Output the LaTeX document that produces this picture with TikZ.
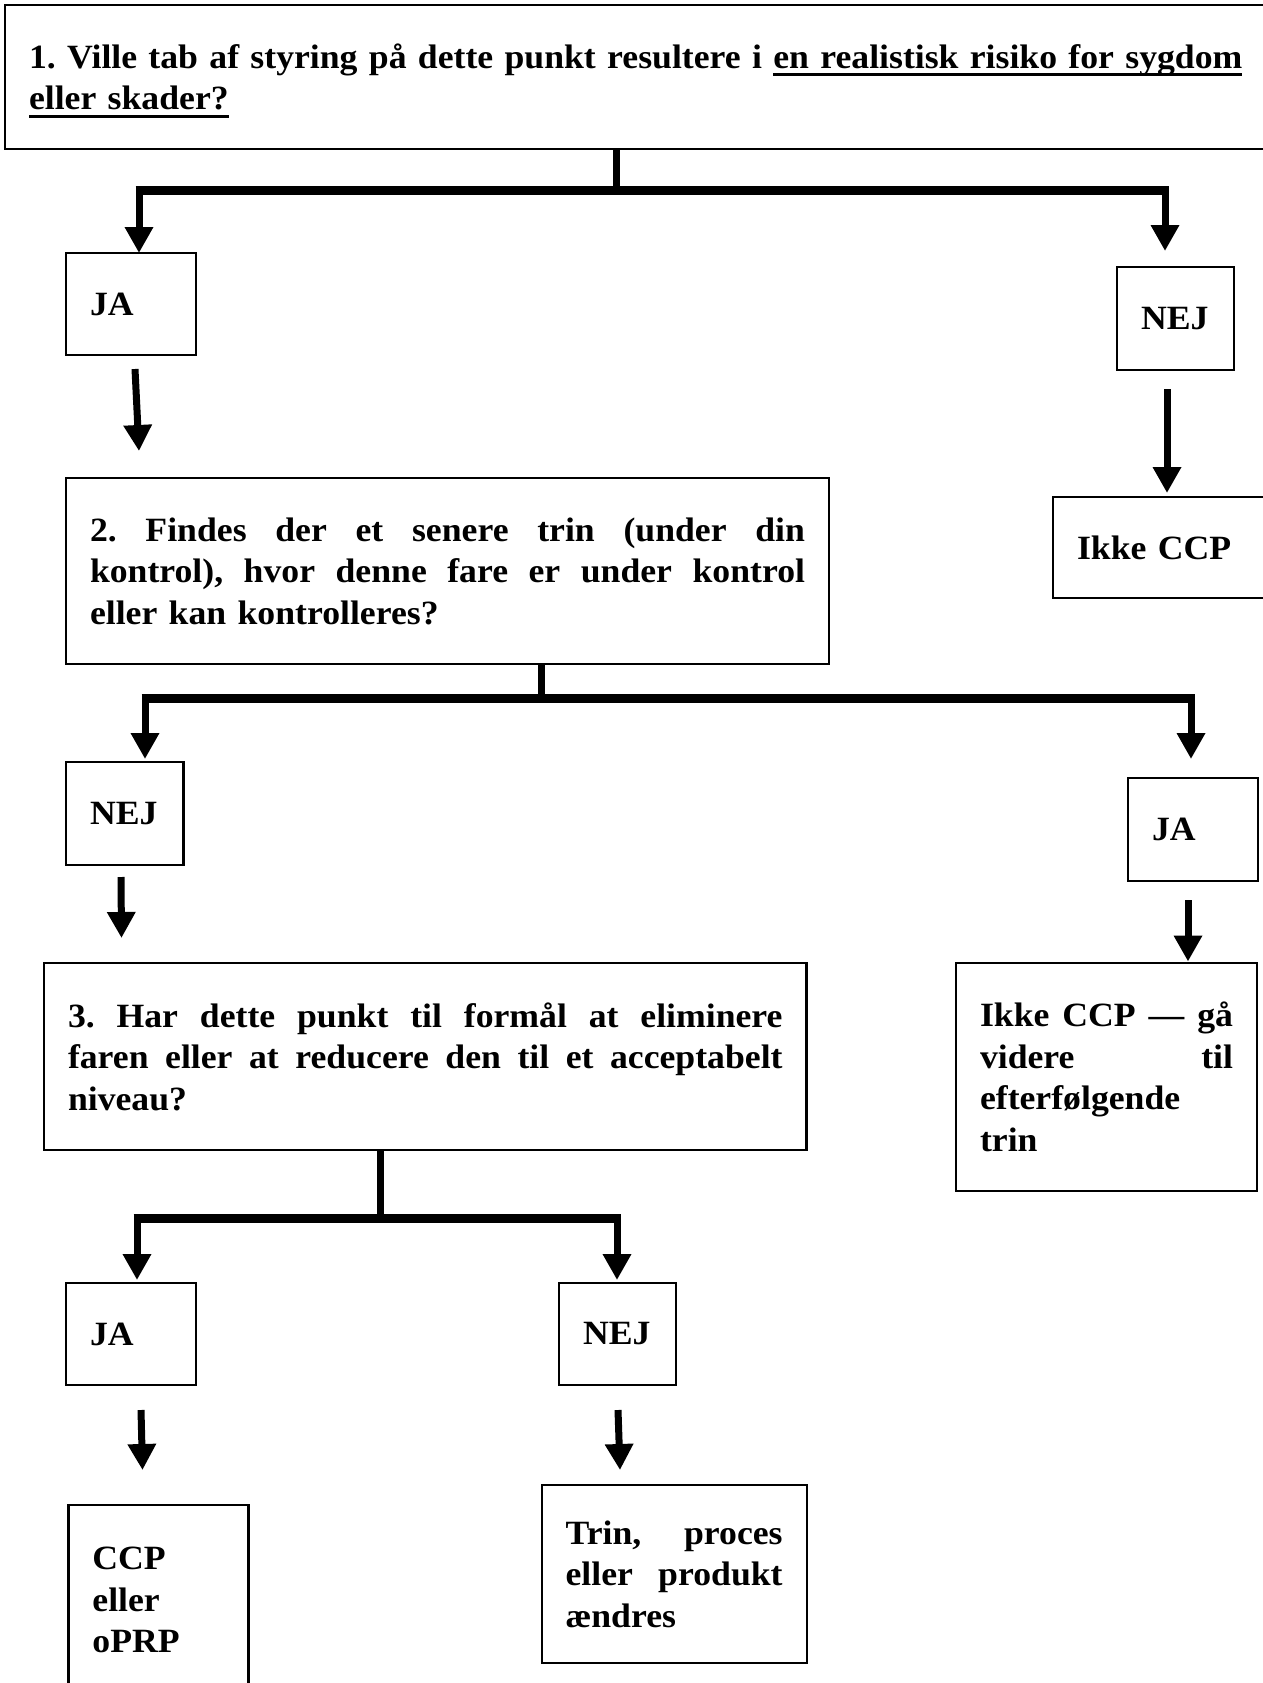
\documentclass[tikz,border=0pt]{standalone}
\usepackage{fontspec}
\setmainfont{Liberation Serif}[FakeStretch=1.05]
\usetikzlibrary{arrows.meta}
\setlength{\parindent}{0pt}
\frenchspacing
\newcommand\myul[1]{\setbox0\hbox{#1}\rlap{\smash{\rule[-8pt]{\wd0}{3pt}}}\box0}
\newcommand\jline[2]{\leavevmode\hbox to #1{\spaceskip=\fontdimen2\font plus 1fil\relax #2}}
\begin{document}
\begin{tikzpicture}[x=1pt,y=-1pt,
  box/.style={draw, line width=2.2pt, anchor=north west, inner xsep=24pt, inner ysep=0pt,
    outer sep=0pt, align=left, font=\bfseries\fontsize{34}{41.5}\selectfont\frenchspacing},
  stem/.style={line width=7pt},
  bar/.style={line width=9pt, shorten <=-3.5pt, shorten >=-3.5pt},
  arr/.style={line width=7pt, -{Triangle[length=26pt,width=27pt]}}
]
\useasboundingbox (0,0) rectangle (1262,1683);
\fill[white] (0,0) rectangle (1262,1683);

% boxes
\node[box, text width=1224pt, minimum height=144pt] (b1) at (5,5)
  {\mbox{1. Ville tab af styring på dette punkt resultere i \myul{en realistisk risiko for sygdom}}\\
   \mbox{\myul{eller skader?}}};
\node[box, text width=82pt, minimum height=102pt] (ja1) at (66,253) {\mbox{JA}};
\node[box, text width=69pt, minimum height=103pt] (nej1) at (1117,267) {\mbox{NEJ}};
\node[box, text width=174pt, minimum height=101pt] (ikke1) at (1053,497) {\mbox{Ikke CCP}};
\node[box, text width=715pt, minimum height=186pt] (b2) at (66,478)
  {\jline{715pt}{2. Findes der et senere trin (under din}\\
   \jline{715pt}{kontrol), hvor denne fare er under kontrol}\\
   \mbox{eller kan kontrolleres?}};
\node[box, text width=69.5pt, minimum height=103pt] (nej2) at (66,762) {\mbox{NEJ}};
\node[box, text width=82pt, minimum height=103pt] (ja2) at (1128,778) {\mbox{JA}};
\node[box, text width=714.5pt, minimum height=187pt] (b3) at (44,963)
  {\jline{714.5pt}{3. Har dette punkt til formål at eliminere}\\
   \jline{714.5pt}{faren eller at reducere den til et acceptabelt}\\
   \mbox{niveau?}};
\node[box, text width=253pt, minimum height=228pt] (ikke2) at (956,963)
  {\jline{253pt}{Ikke CCP — gå}\\
   \jline{253pt}{videre til}\\
   \mbox{efterfølgende}\\
   \mbox{trin}};
\node[box, text width=82pt, minimum height=102pt] (ja3) at (66,1283) {\mbox{JA}};
\node[box, text width=69pt, minimum height=102pt] (nej3) at (559,1283) {\mbox{NEJ}};
\node[box, text width=132pt, minimum height=190pt] (ccp) at (68.4,1505)
  {\mbox{CCP}\\ \mbox{eller}\\ \mbox{oPRP}};
\node[box, text width=217pt, minimum height=178pt] (trin) at (541.6,1485)
  {\jline{217pt}{Trin, proces}\\
   \jline{217pt}{eller produkt}\\
   \mbox{ændres}};

% level 1
\coordinate (s1) at (616,190);
\coordinate (l1) at (139,190);
\coordinate (r1) at (1165,190);
\draw[stem] (s1 |- b1.south) -- (s1);
\draw[bar] (l1) -- (r1);
\draw[arr] (l1) -- (l1 |- ja1.north);
\draw[arr, shorten >=16pt] (r1) -- (r1 |- nej1.north);
\coordinate (f1a) at (135,369);
\coordinate (f1b) at (139,451);
\draw[arr] (f1a) -- (f1b);
\coordinate (f2a) at (1167,389);
\coordinate (f2b) at (1167,493);
\draw[arr] (f2a) -- (f2b);

% level 2
\coordinate (s2) at (541,698);
\coordinate (l2) at (145,698);
\coordinate (r2) at (1191,698);
\draw[stem] (s2 |- b2.south) -- (s2);
\draw[bar] (l2) -- (r2);
\draw[arr, shorten >=3pt] (l2) -- (l2 |- nej2.north);
\draw[arr, shorten >=19pt] (r2) -- (r2 |- ja2.north);
\coordinate (f3a) at (121,877);
\coordinate (f3b) at (121.5,938);
\draw[arr] (f3a) -- (f3b);
\coordinate (f4a) at (1188,900);
\coordinate (f4b) at (1188,961.5);
\draw[arr] (f4a) -- (f4b);

% level 3
\coordinate (s3) at (380,1218);
\coordinate (l3) at (137,1218);
\coordinate (r3) at (617,1218);
\draw[stem] (s3 |- b3.south) -- (s3);
\draw[bar] (l3) -- (r3);
\draw[arr, shorten >=3pt] (l3) -- (l3 |- ja3.north);
\draw[arr, shorten >=3pt] (r3) -- (r3 |- nej3.north);
\coordinate (f5a) at (141,1410);
\coordinate (f5b) at (142.5,1470);
\draw[arr] (f5a) -- (f5b);
\coordinate (f6a) at (618,1410);
\coordinate (f6b) at (620,1470);
\draw[arr] (f6a) -- (f6b);
\end{tikzpicture}
\end{document}
